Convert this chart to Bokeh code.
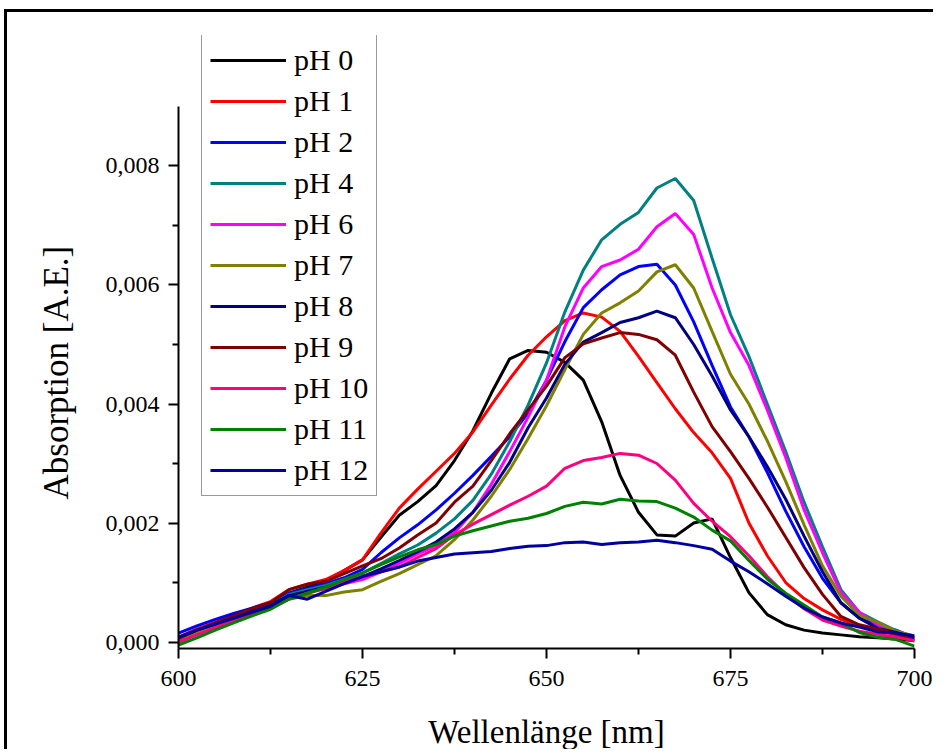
from bokeh.plotting import figure
from bokeh.models import (Legend, LegendItem, FixedTicker, CustomJSTickFormatter, Range1d, Title)
from bokeh.embed import file_html
from bokeh.resources import INLINE

# Wavelength sampling [nm]
wavelength = [600.0, 602.5, 605.0, 607.5, 610.0, 612.5, 615.0, 617.5, 620.0, 622.5,
              625.0, 627.5, 630.0, 632.5, 635.0, 637.5, 640.0, 642.5, 645.0, 647.5,
              650.0, 652.5, 655.0, 657.5, 660.0, 662.5, 665.0, 667.5, 670.0, 672.5,
              675.0, 677.5, 680.0, 682.5, 685.0, 687.5, 690.0, 692.5, 695.0, 697.5, 700.0]

# Absorption values in units of 10^-3 A.E.
ph0 = [0.05, 0.20, 0.32, 0.43, 0.55, 0.65, 0.82, 0.92, 1.03, 1.20,
       1.38, 1.76, 2.13, 2.36, 2.63, 3.05, 3.55, 4.18, 4.76, 4.90,
       4.87, 4.70, 4.40, 3.70, 2.80, 2.18, 1.80, 1.78, 2.00, 2.07,
       1.42, 0.83, 0.46, 0.29, 0.20, 0.15, 0.12, 0.09, 0.07, 0.05, 0.02]
ph1 = [0.08, 0.22, 0.33, 0.45, 0.57, 0.68, 0.88, 0.97, 1.05, 1.20,
       1.38, 1.83, 2.25, 2.57, 2.87, 3.17, 3.53, 3.98, 4.42, 4.82,
       5.13, 5.40, 5.53, 5.46, 5.22, 4.80, 4.36, 3.92, 3.52, 3.18,
       2.75, 2.00, 1.45, 1.00, 0.73, 0.54, 0.38, 0.27, 0.19, 0.12, 0.04]
ph2 = [0.15, 0.27, 0.38, 0.48, 0.57, 0.66, 0.82, 0.90, 0.98, 1.08,
       1.22, 1.50, 1.75, 1.97, 2.22, 2.50, 2.80, 3.12, 3.45, 3.85,
       4.40, 5.05, 5.62, 5.92, 6.17, 6.31, 6.35, 6.00, 5.38, 4.65,
       3.95, 3.45, 2.85, 2.20, 1.60, 1.07, 0.66, 0.40, 0.28, 0.20, 0.07]
ph4 = [0.05, 0.18, 0.30, 0.42, 0.52, 0.62, 0.80, 0.88, 0.95, 1.05,
       1.16, 1.32, 1.48, 1.63, 1.83, 2.07, 2.38, 2.82, 3.37, 3.98,
       4.69, 5.55, 6.25, 6.76, 7.02, 7.22, 7.63, 7.79, 7.42, 6.45,
       5.50, 4.80, 4.00, 3.20, 2.35, 1.60, 0.88, 0.50, 0.34, 0.19, 0.04]
ph6 = [0.05, 0.17, 0.28, 0.40, 0.50, 0.60, 0.75, 0.85, 0.90, 0.98,
       1.05, 1.18, 1.32, 1.48, 1.62, 1.84, 2.18, 2.65, 3.20, 3.78,
       4.40, 5.30, 5.95, 6.31, 6.42, 6.60, 6.98, 7.20, 6.85, 5.95,
       5.20, 4.65, 3.90, 3.10, 2.22, 1.50, 0.83, 0.50, 0.29, 0.17, 0.10]
ph7 = [0.03, 0.15, 0.25, 0.37, 0.48, 0.58, 0.72, 0.78, 0.78, 0.84,
       0.88, 1.02, 1.15, 1.30, 1.45, 1.72, 2.05, 2.45, 2.90, 3.42,
       3.97, 4.58, 5.17, 5.53, 5.70, 5.90, 6.22, 6.34, 5.95, 5.22,
       4.50, 4.00, 3.38, 2.70, 1.97, 1.28, 0.77, 0.45, 0.33, 0.18, 0.10]
ph8 = [0.07, 0.20, 0.30, 0.42, 0.52, 0.62, 0.78, 0.85, 0.92, 1.00,
       1.10, 1.23, 1.37, 1.52, 1.68, 1.90, 2.18, 2.55, 3.02, 3.60,
       4.10, 4.67, 5.04, 5.20, 5.37, 5.45, 5.56, 5.45, 5.00, 4.47,
       3.90, 3.45, 2.95, 2.40, 1.78, 1.18, 0.66, 0.40, 0.23, 0.16, 0.07]
ph9 = [0.06, 0.20, 0.32, 0.44, 0.56, 0.66, 0.88, 0.97, 1.02, 1.15,
       1.28, 1.40, 1.58, 1.80, 2.00, 2.35, 2.62, 3.05, 3.50, 3.90,
       4.30, 4.78, 5.01, 5.11, 5.20, 5.17, 5.08, 4.82, 4.20, 3.62,
       3.20, 2.75, 2.27, 1.76, 1.25, 0.80, 0.43, 0.29, 0.22, 0.14, 0.02]
ph10 = [0.00, 0.12, 0.24, 0.36, 0.46, 0.56, 0.72, 0.82, 0.90, 1.00,
        1.10, 1.18, 1.26, 1.42, 1.57, 1.80, 1.98, 2.14, 2.30, 2.45,
        2.62, 2.92, 3.05, 3.10, 3.17, 3.14, 3.00, 2.72, 2.33, 2.03,
        1.77, 1.45, 1.10, 0.80, 0.56, 0.37, 0.27, 0.18, 0.13, 0.08, 0.02]
ph11 = [-0.05, 0.07, 0.20, 0.32, 0.44, 0.55, 0.72, 0.82, 0.92, 1.05,
        1.16, 1.30, 1.43, 1.55, 1.64, 1.78, 1.87, 1.95, 2.03, 2.08,
        2.16, 2.28, 2.35, 2.32, 2.40, 2.37, 2.36, 2.25, 2.10, 1.88,
        1.70, 1.37, 1.06, 0.82, 0.62, 0.42, 0.32, 0.16, 0.08, 0.04, -0.07]
ph12 = [0.08, 0.20, 0.30, 0.40, 0.50, 0.60, 0.78, 0.72, 0.85, 0.98,
        1.10, 1.18, 1.26, 1.36, 1.42, 1.48, 1.50, 1.52, 1.57, 1.61,
        1.62, 1.67, 1.68, 1.64, 1.67, 1.68, 1.71, 1.67, 1.62, 1.56,
        1.36, 1.18, 0.98, 0.77, 0.57, 0.42, 0.32, 0.25, 0.17, 0.15, 0.10]

labels = ["pH 0", "pH 1", "pH 2", "pH 4", "pH 6", "pH 7", "pH 8", "pH 9",
          "pH 10", "pH 11", "pH 12"]
series = [ph0, ph1, ph2, ph4, ph6, ph7, ph8, ph9, ph10, ph11, ph12]
colors = ["#000000", "#FF0000", "#0000FF", "#008080", "#FF00FF", "#808000",
          "#000080", "#800000", "#FF0080", "#008000", "#0000A0"]

x_ticks = [600, 625, 650, 675, 700]
x_minor = [612.5, 637.5, 662.5, 687.5]
y_ticks = [0.0, 0.002, 0.004, 0.006, 0.008]
y_minor = [0.001, 0.003, 0.005, 0.007]
y_axis_top = 0.009

FONT = "Liberation Serif"

p = figure(width=929, height=740, output_backend="svg", toolbar_location=None,
           x_range=Range1d(600, 700), y_range=Range1d(-0.000109, 0.010193),
           min_border_left=170, min_border_right=22, min_border_top=23,
           min_border_bottom=103)
p.styles = {"border-left": "3px solid black", "border-top": "3px solid black",
            "margin-left": "4px", "margin-top": "9px"}
p.outline_line_color = None
p.xgrid.visible = False
p.ygrid.visible = False
p.background_fill_color = "white"
p.border_fill_color = "white"

renderers = []
for ys, c in zip(series, colors):
    r = p.line(wavelength, [v * 1e-3 for v in ys], line_color=c, line_width=3)
    renderers.append(r)

for ax in (p.xaxis[0], p.yaxis[0]):
    ax.axis_line_width = 2
    ax.axis_line_color = "black"
    ax.major_tick_line_width = 2
    ax.minor_tick_line_width = 2
    ax.major_tick_out = 10
    ax.major_tick_in = 0
    ax.minor_tick_out = 6
    ax.minor_tick_in = 0
    ax.major_label_text_font = FONT
    ax.major_label_text_font_size = "24px"
    ax.major_label_text_color = "black"
    ax.axis_label_text_font = FONT
    ax.axis_label_text_font_style = "normal"
    ax.axis_label_text_font_size = "33px"
    ax.axis_label_text_color = "black"

p.xaxis[0].ticker = FixedTicker(ticks=x_ticks, minor_ticks=x_minor)
p.yaxis[0].ticker = FixedTicker(ticks=y_ticks, minor_ticks=y_minor)
p.yaxis[0].bounds = (-0.000109, y_axis_top)
p.yaxis[0].formatter = CustomJSTickFormatter(code="return tick.toFixed(3).replace('.', ',');")
p.xaxis[0].major_label_standoff = 12
p.yaxis[0].major_label_standoff = 9
p.xaxis[0].axis_label = "Wellenlänge [nm]"
p.xaxis[0].axis_label_standoff = 25

ytitle = Title(text="Absorption [A.E.]", align="left", offset=149, standoff=54,
               text_font=FONT, text_font_size="35px", text_font_style="normal",
               text_color="black")
p.add_layout(ytitle, "left")

legend = Legend(items=[LegendItem(label=l, renderers=[r]) for l, r in zip(labels, renderers)],
                location=(23, 152), orientation="vertical",
                label_text_font=FONT, label_text_font_size="30px",
                label_text_color="black", label_standoff=8,
                glyph_width=76, glyph_height=30, label_height=30,
                spacing=7, padding=8, margin=0,
                border_line_color="#333333", border_line_width=1,
                background_fill_color="white", background_fill_alpha=1.0)
p.add_layout(legend)

open("out.html", "w").write(file_html(p, INLINE))
